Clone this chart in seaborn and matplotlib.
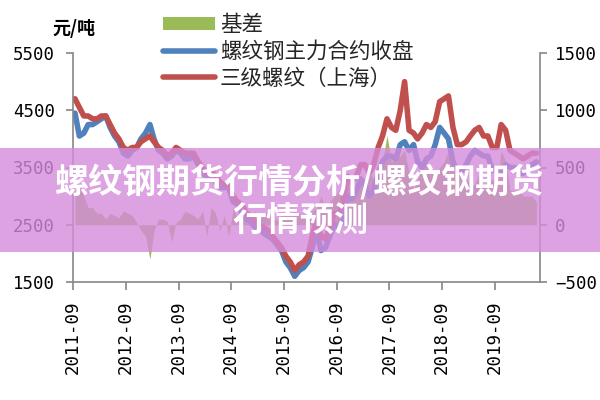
import matplotlib
matplotlib.use("Agg")
import matplotlib.pyplot as plt
from matplotlib.lines import Line2D
from matplotlib.patches import Patch, Rectangle
import pandas as pd
import seaborn as sns

# monthly readings, 2011-09 .. 2020-06
months = pd.date_range("2011-09-01", "2020-06-01", freq="MS") + pd.Timedelta(days=14)

futures_close = [
    4450, 4050, 4100, 4250,                                                  # 2011
    4250, 4300, 4350, 4400, 4200, 4050, 3950, 3750, 3700, 3800, 3850, 4000,  # 2012
    4100, 4250, 4000, 3800, 3750, 3650, 3700, 3800, 3750, 3650, 3650, 3700,  # 2013
    3550, 3400, 3350, 3350, 3250, 3150, 3150, 3150, 2900, 2850, 2700, 2600,  # 2014
    2550, 2450, 2450, 2350, 2300, 2250, 2150, 2050, 1850, 1750, 1600, 1700,  # 2015
    1750, 1850, 2100, 2400, 2050, 2100, 2300, 2500, 2450, 2600, 3000, 2950,  # 2016
    3100, 3300, 3200, 3000, 3100, 3400, 3600, 3700, 3700, 3650, 3900, 3950,  # 2017
    3800, 3900, 3600, 3500, 3650, 3700, 3900, 4200, 4100, 4000, 3600, 3450,  # 2018
    3450, 3550, 3700, 3800, 3750, 3700, 3700, 3450, 3500, 3450, 3550, 3500,  # 2019
    3500, 3400, 3400, 3450, 3550, 3600,                                      # 2020
]

spot_shanghai = [
    4700, 4550, 4400, 4400,
    4350, 4350, 4400, 4400, 4250, 4100, 4000, 3850, 3800, 3850, 3850, 3950,
    4000, 4050, 3950, 3850, 3800, 3700, 3750, 3850, 3800, 3750, 3750, 3750,
    3600, 3500, 3400, 3450, 3350, 3250, 3200, 3200, 3000, 2900, 2850, 2700,
    2650, 2550, 2500, 2450, 2400, 2300, 2200, 2100, 1950, 1850, 1700, 1800,
    1850, 1950, 2300, 2600, 2300, 2250, 2450, 2700, 2700, 2900, 3350, 3250,
    3350, 3550, 3550, 3400, 3550, 3850, 4050, 4350, 4200, 4150, 4500, 5000,
    4150, 4100, 4000, 4100, 4250, 4200, 4300, 4650, 4700, 4750, 4200, 3900,
    3900, 3950, 4050, 4150, 4200, 4050, 4050, 3850, 3850, 4250, 4150, 3800,
    3750, 3700, 3650, 3700, 3750, 3750,
]

basis = [
    250, 350, 250, 150,
    150, 100, 100, 50, 100, 80, 60, 120, 100, 80, 20, -50,
    -100, -300, -50, 50, 50, 30, -150, 20, 50, 120, 100, 80,
    50, 120, -100, 150, 100, -50, 80, -100, 150, 50, 180, 100,
    80, 120, 50, 100, 120, 60, 40, 80, 120, 100, 120, 100,
    80, 100, 120, 150, 250, 150, 200, 250, 300, 350, 400, 350,
    300, 350, 400, 450, 400, 500, 550, 780, 550, 600, 600, 650,
    450, 300, 400, 500, 550, 500, 450, 500, 550, 650, 550, 450,
    450, 400, 350, 350, 450, 350, 350, 400, 350, 650, 550, 300,
    300, 300, 250, 250, 250, 200,
]

left_ticks = [1500, 2500, 3500, 4500, 5500]
right_ticks = [-500, 0, 500, 1000, 1500]
year_ticks = ["2011-09", "2012-09", "2013-09", "2014-09", "2015-09",
              "2016-09", "2017-09", "2018-09", "2019-09"]
legend_labels = ["基差", "螺纹钢主力合约收盘", "三级螺纹（上海）"]
unit_label = "元/吨"
banner_lines = ["螺纹钢期货行情分析/螺纹钢期货", "行情预测"]

GREEN, BLUE, RED = "#9BBB59", "#4F81BD", "#C0504D"
GRAY = "#868686"
NUM_FONT = "DejaVu Sans Mono"

sns.set_theme(style="white")
plt.rcParams["font.family"] = ["Noto Sans CJK SC", "DejaVu Sans"]

df = pd.DataFrame({"date": months, "futures": futures_close,
                   "spot": spot_shanghai, "basis": basis})

fig = plt.figure(figsize=(6, 4), dpi=100)
ax = fig.add_axes([73 / 600, 1 - 282 / 400, 467 / 600, 229 / 400])
ax2 = ax.twinx()

# basis area on the secondary axis, lines on top
ax2.fill_between(df["date"], 0, df["basis"], color=GREEN, lw=0)
ax.set_zorder(ax2.get_zorder() + 1)
ax.patch.set_visible(False)

sns.lineplot(data=df, x="date", y="futures", ax=ax, color=BLUE, lw=4)
sns.lineplot(data=df, x="date", y="spot", ax=ax, color=RED, lw=4)

ax.set_xlim(pd.Timestamp("2011-09-01"), pd.Timestamp("2020-07-10"))
ax.set_ylim(1500, 5500)
ax2.set_ylim(-500, 1500)

ax.set_xticks([pd.Timestamp(t + "-01") for t in year_ticks], labels=year_ticks,
              rotation=90, fontfamily=NUM_FONT, fontsize=12.5)
ax.set_yticks(left_ticks, labels=[str(v) for v in left_ticks],
              fontfamily=NUM_FONT, fontsize=12.5)
ax2.set_yticks(right_ticks, labels=[str(v).replace("-", "\u2212") for v in right_ticks],
               fontfamily=NUM_FONT, fontsize=12.5)
ax.set_xlabel("")
ax.set_ylabel("")
ax.grid(False)
ax2.grid(False)

for s in ["top", "right"]:
    ax.spines[s].set_visible(False)
for s in ["top", "left", "bottom"]:
    ax2.spines[s].set_visible(False)
for sp in [ax.spines["left"], ax.spines["bottom"], ax2.spines["right"]]:
    sp.set_color(GRAY)
    sp.set_linewidth(1.2)

ax.tick_params(axis="y", direction="out", length=5, width=1.2, color=GRAY,
               pad=8, labelcolor="black", left=True)
ax.tick_params(axis="x", direction="out", length=6, width=1.2, color=GRAY,
               pad=7, labelcolor="black", bottom=True)
ax2.tick_params(axis="y", direction="out", length=5, width=1.2, color=GRAY,
                pad=6, labelcolor="black", right=True)

fig.text(74 / 600, 1 - 28 / 400, unit_label, ha="center", va="center",
         fontsize=13, fontweight="bold", color="black")

handles = [Patch(facecolor=GREEN, edgecolor="none"),
           Line2D([], [], color=BLUE, lw=4),
           Line2D([], [], color=RED, lw=4)]
fig.legend(handles, legend_labels, loc="upper left",
           bbox_to_anchor=(163 / 600, 1 - 14 / 400), bbox_transform=fig.transFigure,
           frameon=False, fontsize=15.5, handlelength=2.4, handleheight=0.55,
           handletextpad=0.25, labelspacing=0.22, borderpad=0, borderaxespad=0)

# purple banner across the middle
fig.patches.append(Rectangle((0, 1 - 252 / 400), 1, 104 / 400, transform=fig.transFigure,
                             facecolor="#d58bdb", edgecolor="none", alpha=0.8, zorder=10))
fig.text(0.5, 1 - 182 / 400, banner_lines[0], ha="center", va="center", color="white",
         fontsize=24.5, fontweight="bold", zorder=11)
fig.text(0.5, 1 - 221 / 400, banner_lines[1], ha="center", va="center", color="white",
         fontsize=24.5, fontweight="bold", zorder=11)

fig.savefig("out.png", dpi=100)
